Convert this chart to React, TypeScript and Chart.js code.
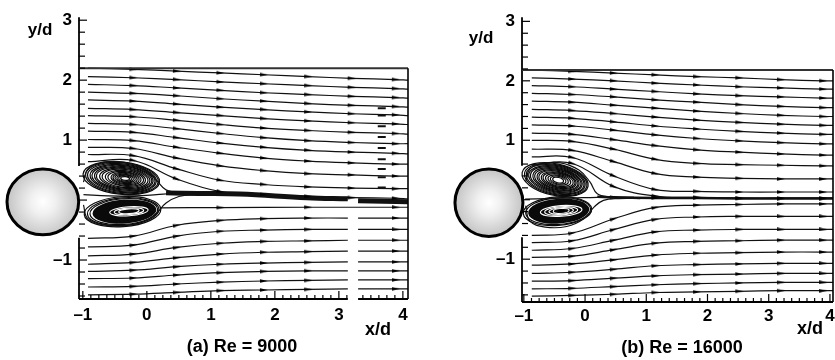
import { useEffect, useRef } from 'react';
import { Chart, registerables } from 'chart.js';

Chart.register(...registerables);

// ---------------- data (units: x/d, y/d) ----------------
const X_TICKS = [-1, 0, 1, 2, 3, 4];
const Y_TICKS = [-1, 1, 2, 3];
const ARROW_X = [-0.21, 0.47, 1.15, 1.83, 2.52, 3.2, 3.89];

// panel (a) Re = 9000
const XS_A = [-0.92, -0.21, 0.47, 1.15, 1.83, 2.52, 3.2, 3.89, 4.08];
const XS_A_GAP = [-0.92, -0.21, 0.47, 1.15, 1.83, 2.52, 3.14, 3.22, 3.3, 3.89, 4.08];
const UPPER_A = [
  [2.2, 2.18, 2.15, 2.12, 2.09, 2.06, 2.03, 2.01, 2.0],
  [2.06, 2.04, 2.01, 1.97, 1.94, 1.91, 1.88, 1.86, 1.85],
  [1.93, 1.91, 1.87, 1.83, 1.79, 1.76, 1.73, 1.71, 1.7],
  [1.8, 1.78, 1.74, 1.69, 1.65, 1.61, 1.58, 1.56, 1.55],
  [1.67, 1.65, 1.6, 1.55, 1.51, 1.47, 1.44, 1.42, 1.41],
  [1.53, 1.51, 1.46, 1.41, 1.36, 1.32, 1.29, 1.27, 1.26],
  [1.41, 1.39, 1.33, 1.26, 1.2, 1.16, 1.13, 1.11, 1.1],
  [1.28, 1.26, 1.19, 1.11, 1.04, 0.99, 0.96, 0.94, 0.94],
  [1.15, 1.13, 1.04, 0.95, 0.88, 0.83, 0.8, 0.78, 0.77],
  [1.01, 0.99, 0.88, 0.78, 0.7, 0.65, 0.62, 0.6, 0.6],
  [0.88, 0.86, 0.7, 0.57, 0.49, 0.44, 0.42, 0.4, 0.4],
  [0.76, 0.74, 0.52, 0.33, 0.26, 0.22, 0.2, 0.19, 0.19],
  [0.64, 0.66, 0.35, 0.14, 0.09, 0.06, 0.04, 0.03, 0.02],
];
const LOWER_A = [
  [-0.64, -0.6, -0.42, -0.34, -0.31, -0.3, -0.3, null, -0.3, -0.3, -0.3],
  [-0.78, -0.75, -0.6, -0.52, -0.5, -0.49, -0.49, null, -0.49, -0.49, -0.49],
  [-0.93, -0.9, -0.79, -0.72, -0.69, -0.68, -0.67, null, -0.67, -0.67, -0.67],
  [-1.07, -1.04, -0.96, -0.9, -0.87, -0.86, -0.85, null, -0.85, -0.85, -0.85],
  [-1.19, -1.17, -1.11, -1.07, -1.05, -1.04, -1.03, null, -1.03, -1.03, -1.03],
  [-1.31, -1.3, -1.25, -1.21, -1.19, -1.18, -1.18, null, -1.18, -1.18, -1.18],
  [-1.45, -1.44, -1.4, -1.37, -1.35, -1.34, -1.33, null, -1.33, -1.33, -1.33],
  [-1.58, -1.57, -1.54, -1.51, -1.5, -1.49, -1.48, null, -1.48, -1.48, -1.48],
];
const WAKE_A: [number, number | null][] = [
  [0.3, 0.12], [0.8, 0.11], [1.45, 0.1], [2.5, 0.04], [3.14, 0.02], [3.22, null], [3.3, -0.01], [4.08, -0.03],
];
const SEP_A: [number, number][][] = [
  [[-0.99, 0.3], [-0.92, 0.52], [-0.7, 0.62], [-0.35, 0.63], [-0.05, 0.52], [0.15, 0.33], [0.3, 0.17], [0.55, 0.12], [0.9, 0.11]],
  [[-0.99, 0.09], [-0.6, 0.07], [-0.2, 0.07], [0.15, 0.09], [0.4, 0.11], [0.7, 0.11]],
  [[-0.99, -0.08], [-0.93, -0.3], [-0.7, -0.41], [-0.35, -0.43], [-0.05, -0.36], [0.15, -0.22], [0.3, -0.05], [0.5, 0.06], [0.8, 0.1]],
  [[0.2, -0.13], [1.15, -0.125], [2.52, -0.12], [3.89, -0.12], [4.08, -0.12]],
];
const STRAY_A_X = 3.67;
const STRAY_A_Y = [1.53, 1.41, 1.23, 1.05, 0.87, 0.68, 0.52, 0.38, 0.21];
const CYL_A = [-1.625, -0.03, 0.56, 0.55]; // cx, cy, rx, ry
const VA_UP_C = [-0.34, 0.36];
const VA_UP_LOOPS = [
  [0.07, 0.03, 0], [0.1, 0.045, 0], [0.13, 0.06, 0], [0.16, 0.07, 0], [0.19, 0.085, 0], [0.22, 0.1, 0],
  [0.26, 0.115, -0.01], [0.3, 0.13, -0.01], [0.34, 0.15, -0.02], [0.38, 0.165, -0.02], [0.42, 0.18, -0.03],
  [0.45, 0.195, -0.03], [0.48, 0.21, -0.04], [0.51, 0.225, -0.04], [0.54, 0.24, -0.05], [0.57, 0.255, -0.05], [0.6, 0.27, -0.06],
];
const VA_LO_C = [-0.33, -0.19];
const VA_LO_CORE = [0.5, 0.2, -0.02];
const VA_LO_WHITE = [[0.3, 0.075, 0.05], [0.23, 0.055, 0.05], [0.16, 0.04, 0.05]];
const VA_LO_LOOPS = [[0.53, 0.215, -0.03], [0.56, 0.23, -0.04], [0.6, 0.25, -0.05]];

// panel (b) Re = 16000
const XS_B = [-0.87, -0.21, 0.47, 1.15, 1.83, 2.52, 3.2, 3.89, 4.05];
const UPPER_B = [
  [2.18, 2.16, 2.13, 2.1, 2.07, 2.05, 2.02, 2.0, 2.0],
  [2.05, 2.03, 2.0, 1.96, 1.93, 1.9, 1.88, 1.86, 1.86],
  [1.92, 1.9, 1.86, 1.82, 1.78, 1.75, 1.73, 1.71, 1.71],
  [1.79, 1.77, 1.73, 1.68, 1.64, 1.6, 1.57, 1.55, 1.55],
  [1.66, 1.64, 1.59, 1.54, 1.49, 1.45, 1.42, 1.4, 1.4],
  [1.52, 1.5, 1.45, 1.39, 1.34, 1.3, 1.27, 1.25, 1.25],
  [1.39, 1.37, 1.31, 1.24, 1.19, 1.15, 1.12, 1.1, 1.1],
  [1.26, 1.24, 1.17, 1.09, 1.03, 0.99, 0.96, 0.94, 0.94],
  [1.12, 1.1, 1.01, 0.91, 0.84, 0.8, 0.77, 0.75, 0.75],
  [1.0, 0.98, 0.85, 0.68, 0.61, 0.59, 0.58, 0.57, 0.57],
  [0.85, 0.83, 0.64, 0.44, 0.38, 0.36, 0.35, 0.35, 0.35],
  [0.72, 0.71, 0.4, 0.17, 0.14, 0.13, 0.13, 0.13, 0.13],
  [0.59, 0.61, 0.22, 0.06, 0.04, 0.03, 0.03, 0.03, 0.03],
];
const LOWER_B = [
  [-0.6, -0.56, -0.32, -0.13, -0.09, -0.08, -0.07, -0.07, -0.07],
  [-0.72, -0.69, -0.5, -0.33, -0.29, -0.28, -0.28, -0.28, -0.28],
  [-0.85, -0.82, -0.68, -0.54, -0.51, -0.5, -0.5, -0.5, -0.5],
  [-0.97, -0.95, -0.84, -0.73, -0.7, -0.69, -0.68, -0.68, -0.68],
  [-1.1, -1.08, -1.01, -0.93, -0.9, -0.89, -0.88, -0.88, -0.88],
  [-1.24, -1.22, -1.17, -1.11, -1.09, -1.08, -1.07, -1.07, -1.07],
  [-1.37, -1.36, -1.32, -1.28, -1.26, -1.25, -1.24, -1.24, -1.24],
  [-1.5, -1.49, -1.46, -1.43, -1.41, -1.4, -1.39, -1.39, -1.39],
  [-1.62, -1.61, -1.59, -1.56, -1.55, -1.54, -1.53, -1.53, -1.53],
];
const WAKE_B: [number, number | null][] = [
  [0.2, 0.05], [0.47, 0.04], [1.15, 0.03], [1.83, 0.03], [2.52, 0.02], [3.2, 0.02], [3.89, 0.02], [4.05, 0.02],
];
const SEP_B: [number, number][][] = [
  [[-0.97, 0.3], [-0.9, 0.52], [-0.7, 0.61], [-0.4, 0.62], [-0.1, 0.5], [0.08, 0.3], [0.2, 0.1], [0.4, 0.05], [0.8, 0.04]],
  [[-0.98, 0.01], [-0.6, 0.02], [-0.2, 0.03], [0.2, 0.04], [0.5, 0.04]],
  [[-0.97, -0.1], [-0.9, -0.36], [-0.65, -0.46], [-0.3, -0.45], [-0.02, -0.32], [0.15, -0.12], [0.3, -0.01], [0.55, 0.02], [0.9, 0.02]],
];
const CYL_B = [-1.57, -0.05, 0.555, 0.567];
const VB_UP_C = [-0.44, 0.33];
const VB_UP_LOOPS = [
  [0.09, 0.045, 0], [0.13, 0.065, 0], [0.17, 0.08, 0], [0.21, 0.1, 0], [0.25, 0.115, 0], [0.28, 0.13, 0],
  [0.31, 0.145, -0.01], [0.34, 0.16, -0.01], [0.37, 0.175, -0.02], [0.4, 0.19, -0.02], [0.43, 0.205, -0.03],
  [0.46, 0.22, -0.03], [0.49, 0.235, -0.04], [0.52, 0.25, -0.04], [0.55, 0.265, -0.05],
];
const VB_LO_C = [-0.41, -0.19];
const VB_LO_CORE = [0.5, 0.21, -0.02];
const VB_LO_WHITE = [[0.34, 0.09, 0.02], [0.27, 0.07, 0.02], [0.2, 0.055, 0.02], [0.13, 0.04, 0.02]];
const VB_LO_DOT = [0.06, 0.03, 0.02];
const VB_LO_LOOPS = [[0.53, 0.225, -0.03], [0.56, 0.24, -0.04]];

// ---------------- drawing helpers ----------------
const FONT = '"Liberation Sans", Arial, Helvetica, sans-serif';

function withArrows(xs: number[], ys: (number | null)[]) {
  return xs.map((x, i) => ({ x, y: ys[i], a: ys[i] !== null && ARROW_X.includes(x) ? 1 : 0 }));
}
function fromPairs(list: [number, number | null][]) {
  return list.map(([x, y]) => ({ x, y, a: y !== null && ARROW_X.includes(x) ? 1 : 0 }));
}

function makeArrow() {
  const c = document.createElement('canvas');
  c.width = 8;
  c.height = 4;
  const g = c.getContext('2d')!;
  g.fillStyle = '#000';
  g.beginPath();
  g.moveTo(0, 0.2);
  g.lineTo(8, 2);
  g.lineTo(0, 3.8);
  g.closePath();
  g.fill();
  return c;
}

function rotFn(ctx: any) {
  const d = ctx.dataset.data;
  const i = ctx.dataIndex;
  const a = d[i - 1];
  const b = d[i + 1];
  if (!a || !b || a.y == null || b.y == null) return 0;
  const sx = ctx.chart.scales.x;
  const sy = ctx.chart.scales.y;
  const dx = sx.getPixelForValue(b.x) - sx.getPixelForValue(a.x);
  const dy = sy.getPixelForValue(b.y) - sy.getPixelForValue(a.y);
  return (Math.atan2(dy, dx) * 180) / Math.PI;
}

type Vortex = {
  c: number[];
  rot: number;
  loops: number[][];
  core?: number[];
  white?: number[][];
  dot?: number[];
};

type Panel = {
  xMin: number; xMax: number; yMin: number; yMax: number; boxTop: number;
  padTop: number; padRight: number; yAxisW: number; xAxisH: number; xLabelPad: number; yLabelPad: number;
  upperXs: number[]; upper: number[][]; lowerXs: number[]; lower: (number | null)[][];
  wake: [number, number | null][]; wakeWidth: number; seps: [number, number][][];
  stray?: { x: number; ys: number[] };
  cyl: number[]; vortices: Vortex[]; axisGap: number[]; xGap?: number[];
  yd: number[]; xd: number[]; title: number[]; titleText: string;
};

function drawVortex(ctx: CanvasRenderingContext2D, sx: any, sy: any, v: Vortex) {
  const px = sx.getPixelForValue(v.c[0]);
  const py = sy.getPixelForValue(v.c[1]);
  const kx = Math.abs(sx.getPixelForValue(1) - sx.getPixelForValue(0));
  const ky = Math.abs(sy.getPixelForValue(1) - sy.getPixelForValue(0));
  ctx.save();
  ctx.translate(px, py);
  ctx.rotate((v.rot * Math.PI) / 180);
  if (v.core) {
    ctx.fillStyle = '#0a0a0a';
    ctx.beginPath();
    ctx.ellipse(v.core[2] * kx, 0, v.core[0] * kx, v.core[1] * ky, 0, 0, Math.PI * 2);
    ctx.fill();
  }
  ctx.strokeStyle = '#0a0a0a';
  ctx.lineWidth = 1.2;
  for (const [rx, ry, dx] of v.loops) {
    ctx.beginPath();
    ctx.ellipse(dx * kx, 0, rx * kx, ry * ky, 0, 0, Math.PI * 2);
    ctx.stroke();
  }
  if (v.white) {
    ctx.strokeStyle = '#fff';
    ctx.lineWidth = 1.1;
    for (const [rx, ry, dx] of v.white) {
      ctx.beginPath();
      ctx.ellipse(dx * kx, 0, rx * kx, ry * ky, 0, 0, Math.PI * 2);
      ctx.stroke();
    }
  }
  if (v.dot) {
    ctx.fillStyle = '#000';
    ctx.beginPath();
    ctx.ellipse(v.dot[2] * kx, 0, v.dot[0] * kx, v.dot[1] * ky, 0, 0, Math.PI * 2);
    ctx.fill();
  }
  ctx.restore();
}

function makePlugin(p: Panel) {
  return {
    id: 'panelDeco',
    beforeDatasetsDraw(chart: any) {
      const ctx = chart.ctx as CanvasRenderingContext2D;
      const sx = chart.scales.x;
      const sy = chart.scales.y;
      for (const v of p.vortices) drawVortex(ctx, sx, sy, v);
    },
    afterDatasetsDraw(chart: any) {
      const ctx = chart.ctx as CanvasRenderingContext2D;
      const sx = chart.scales.x;
      const sy = chart.scales.y;
      const { left: L, right: R, top: T, bottom: B } = chart.chartArea;
      const line = (x1: number, y1: number, x2: number, y2: number) => {
        ctx.beginPath();
        ctx.moveTo(x1, y1);
        ctx.lineTo(x2, y2);
        ctx.stroke();
      };
      ctx.save();
      ctx.strokeStyle = '#000';
      ctx.lineWidth = 1.8;
      line(L, T, L, sy.getPixelForValue(p.axisGap[0]));
      line(L, sy.getPixelForValue(p.axisGap[1]), L, B);
      if (p.xGap) {
        line(L, B, sx.getPixelForValue(p.xGap[0]), B);
        line(sx.getPixelForValue(p.xGap[1]), B, R, B);
      } else {
        line(L, B, R, B);
      }
      const yt = sy.getPixelForValue(p.boxTop);
      ctx.lineWidth = 2;
      ctx.strokeStyle = '#333';
      line(L, yt, R, yt);
      ctx.lineWidth = 1.6;
      ctx.strokeStyle = '#000';
      line(R, yt, R, B);
      // tick marks pointing inward
      ctx.lineWidth = 1.2;
      for (let k = -8; k <= 15; k++) {
        const v = k * 0.2;
        if (v < p.yMin || v > p.yMax) continue;
        const y = sy.getPixelForValue(v);
        const major = k % 5 === 0;
        line(L, y, L + (major ? 8 : 6), y);
      }
      for (let k = -8; k <= 33; k++) {
        const v = k * 0.125;
        if (v < p.xMin || v > p.xMax) continue;
        if (p.xGap && v > p.xGap[0] && v < p.xGap[1]) continue;
        const x = sx.getPixelForValue(v);
        const major = k % 8 === 0;
        line(x, B, x, B - (major ? 8 : 4));
      }
      ctx.restore();
    },
    afterDraw(chart: any) {
      const ctx = chart.ctx as CanvasRenderingContext2D;
      const sx = chart.scales.x;
      const sy = chart.scales.y;
      const kx = Math.abs(sx.getPixelForValue(1) - sx.getPixelForValue(0));
      const ky = Math.abs(sy.getPixelForValue(1) - sy.getPixelForValue(0));
      const cx = sx.getPixelForValue(p.cyl[0]);
      const cy = sy.getPixelForValue(p.cyl[1]);
      const rx = p.cyl[2] * kx;
      const ry = p.cyl[3] * ky;
      ctx.save();
      const g = ctx.createRadialGradient(cx, cy, 0, cx, cy, Math.max(rx, ry));
      g.addColorStop(0, '#ffffff');
      g.addColorStop(0.35, '#f0f0f0');
      g.addColorStop(1, '#c4c4c4');
      ctx.fillStyle = g;
      ctx.beginPath();
      ctx.ellipse(cx, cy, rx, ry, 0, 0, Math.PI * 2);
      ctx.fill();
      ctx.lineWidth = 3;
      ctx.strokeStyle = '#000';
      ctx.stroke();
      ctx.fillStyle = '#000';
      ctx.textAlign = 'center';
      ctx.textBaseline = 'middle';
      ctx.font = `bold 17px ${FONT}`;
      ctx.fillText('y/d', p.yd[0], p.yd[1]);
      ctx.font = `bold 18px ${FONT}`;
      ctx.fillText('x/d', p.xd[0], p.xd[1]);
      ctx.font = `bold 18px ${FONT}`;
      ctx.fillText(p.titleText, p.title[0], p.title[1]);
      ctx.restore();
    },
  };
}

function buildConfig(p: Panel, arrow: HTMLCanvasElement): any {
  const lineDs = (data: any[], width: number) => ({
    data,
    borderColor: '#111',
    borderWidth: width,
    tension: 0.4,
    fill: false,
    pointStyle: arrow,
    pointRadius: (c: any) => (c.raw && c.raw.a ? 4 : 0),
    pointHoverRadius: 0,
    pointRotation: rotFn,
  });
  const datasets: any[] = [];
  p.upper.forEach((ys) => datasets.push(lineDs(withArrows(p.upperXs, ys), 1.2)));
  p.lower.forEach((ys) => datasets.push(lineDs(withArrows(p.lowerXs, ys), 1.2)));
  p.seps.forEach((s) => datasets.push(lineDs(fromPairs(s), 1.2)));
  datasets.push(lineDs(fromPairs(p.wake), p.wakeWidth));
  if (p.stray) {
    datasets.push({
      data: p.stray.ys.map((y) => ({ x: p.stray!.x, y })),
      showLine: false,
      pointStyle: 'line',
      pointRadius: 4,
      pointBorderWidth: 2,
      pointBorderColor: '#111',
      borderColor: '#111',
    });
  }
  const tickFont = { family: FONT, size: 17, weight: 'bold' as const };
  const fmt = (v: any) => (Number(v) < 0 ? '\u2013' + Math.abs(Number(v)) : String(v));
  return {
    type: 'line',
    data: { datasets },
    options: {
      animation: false,
      responsive: false,
      maintainAspectRatio: false,
      events: [],
      layout: { padding: { left: 0, top: p.padTop, right: p.padRight, bottom: 0 } },
      plugins: { legend: { display: false }, tooltip: { enabled: false }, title: { display: false } },
      scales: {
        x: {
          type: 'linear',
          min: p.xMin,
          max: p.xMax,
          grid: { display: false, drawTicks: false },
          border: { display: false },
          afterBuildTicks: (s: any) => {
            s.ticks = X_TICKS.map((v) => ({ value: v }));
          },
          afterFit: (s: any) => {
            s.height = p.xAxisH;
          },
          ticks: { font: tickFont, color: '#000', padding: p.xLabelPad, autoSkip: false, maxRotation: 0, callback: fmt },
        },
        y: {
          type: 'linear',
          min: p.yMin,
          max: p.yMax,
          grid: { display: false, drawTicks: false },
          border: { display: false },
          afterBuildTicks: (s: any) => {
            s.ticks = Y_TICKS.map((v) => ({ value: v }));
          },
          afterFit: (s: any) => {
            s.width = p.yAxisW;
          },
          ticks: { font: tickFont, color: '#000', padding: p.yLabelPad, autoSkip: false, callback: fmt },
        },
      },
    },
    plugins: [makePlugin(p)],
  };
}

const PANEL_A: Panel = {
  xMin: -1.06, xMax: 4.08, yMin: -1.65, yMax: 3.05, boxTop: 2.2,
  padTop: 15, padRight: 9, yAxisW: 79, xAxisH: 61, xLabelPad: 6, yLabelPad: 7,
  upperXs: XS_A, upper: UPPER_A, lowerXs: XS_A_GAP, lower: LOWER_A,
  wake: WAKE_A, wakeWidth: 5, seps: SEP_A, stray: { x: STRAY_A_X, ys: STRAY_A_Y },
  cyl: CYL_A,
  vortices: [
    { c: VA_UP_C, rot: 6, loops: VA_UP_LOOPS },
    { c: VA_LO_C, rot: -4, loops: VA_LO_LOOPS, core: VA_LO_CORE, white: VA_LO_WHITE },
  ],
  axisGap: [0.57, -0.63], xGap: [3.14, 3.3],
  yd: [40, 30], xd: [378, 330], title: [242, 347], titleText: '(a) Re = 9000',
};

const PANEL_B: Panel = {
  xMin: -1.03, xMax: 4.05, yMin: -1.72, yMax: 3.07, boxTop: 2.18,
  padTop: 15, padRight: 14, yAxisW: 105, xAxisH: 58, xLabelPad: 4, yLabelPad: 7,
  upperXs: XS_B, upper: UPPER_B, lowerXs: XS_B, lower: LOWER_B,
  wake: WAKE_B, wakeWidth: 2.5, seps: SEP_B,
  cyl: CYL_B,
  vortices: [
    { c: VB_UP_C, rot: 12, loops: VB_UP_LOOPS },
    { c: VB_LO_C, rot: -4, loops: VB_LO_LOOPS, core: VB_LO_CORE, white: VB_LO_WHITE, dot: VB_LO_DOT },
  ],
  axisGap: [0.57, -0.63],
  yd: [64, 38], xd: [393, 329], title: [265, 348], titleText: '(b) Re = 16000',
};

export default function App() {
  const refA = useRef<HTMLCanvasElement>(null);
  const refB = useRef<HTMLCanvasElement>(null);
  useEffect(() => {
    const arrow = makeArrow();
    const ca = new Chart(refA.current!, buildConfig(PANEL_A, arrow));
    const cb = new Chart(refB.current!, buildConfig(PANEL_B, arrow));
    return () => {
      ca.destroy();
      cb.destroy();
    };
  }, []);
  return (
    <div style={{ position: 'absolute', left: 0, top: 0, width: 835, height: 360, overflow: 'hidden', background: '#fff' }}>
      <canvas ref={refA} width={417} height={360} style={{ position: 'absolute', left: 0, top: 0 }} />
      <canvas ref={refB} width={430} height={360} style={{ position: 'absolute', left: 417, top: 0 }} />
    </div>
  );
}
